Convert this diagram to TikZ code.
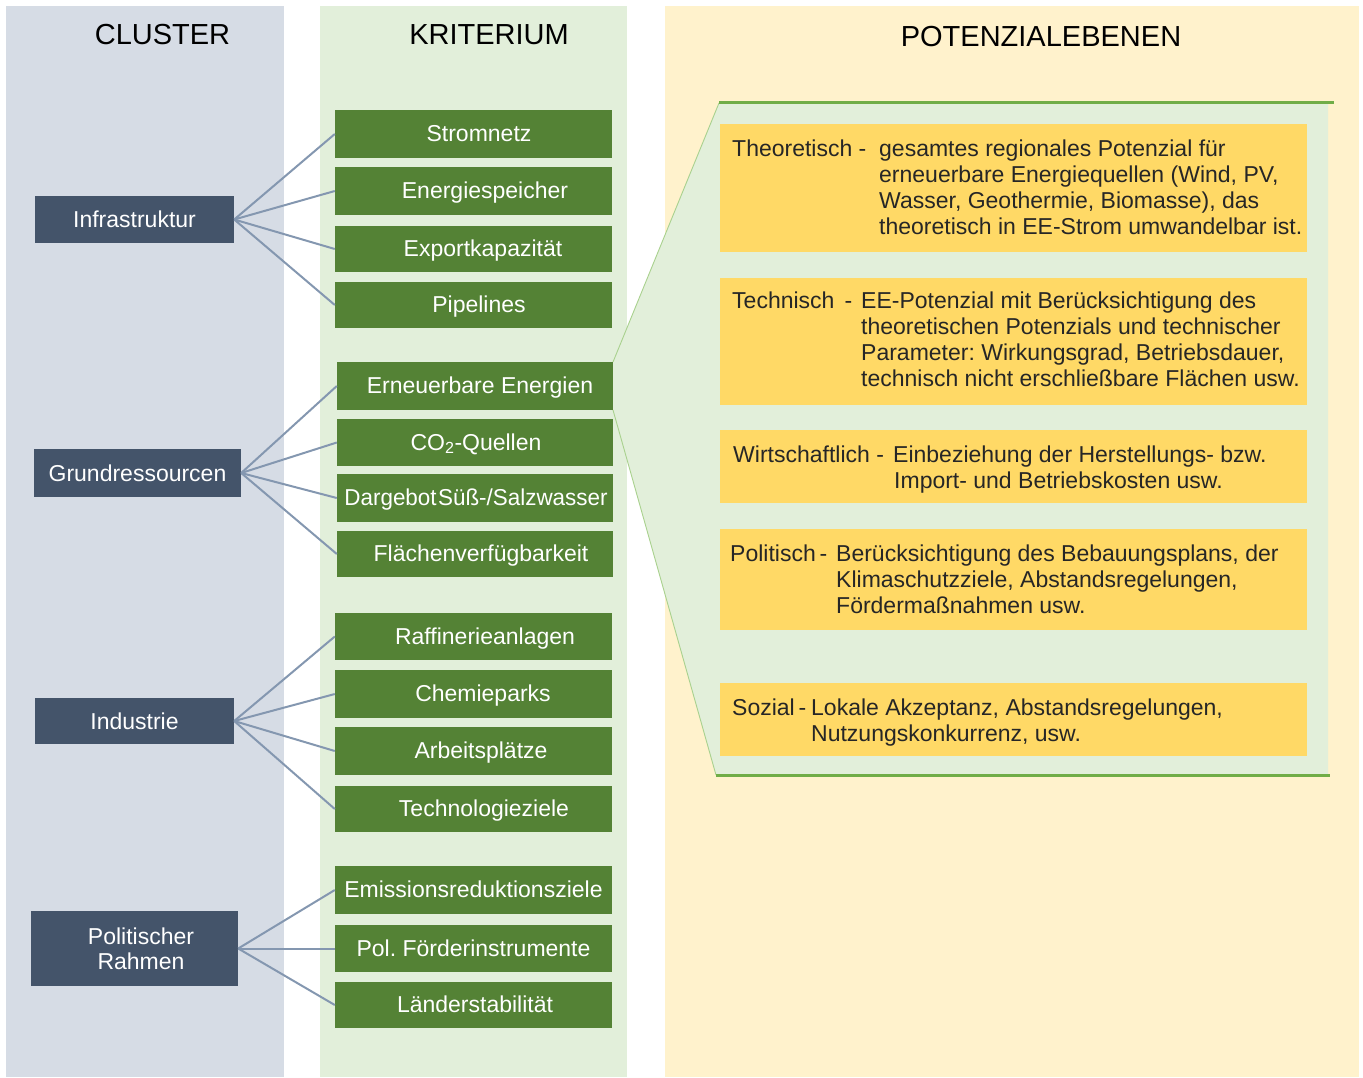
\documentclass[tikz,border=0pt]{standalone}
\usepackage{fontspec}
\setmainfont{Liberation Sans}
\frenchspacing
\definecolor{panelblue}{HTML}{D6DCE5}
\definecolor{panelgreen}{HTML}{E2EFDA}
\definecolor{panelyellow}{HTML}{FFF2CC}
\definecolor{kgreen}{HTML}{548235}
\definecolor{cblue}{HTML}{44546A}
\definecolor{ybox}{HTML}{FFD966}
\definecolor{fanline}{HTML}{8497B0}
\definecolor{trapline}{HTML}{70AD47}
\definecolor{trapthin}{HTML}{A9D18E}
\definecolor{darktext}{HTML}{262626}
\begin{document}
\begin{tikzpicture}[x=1pt,y=-1pt,
  hdr/.style={font=\fontsize{29}{32}\selectfont, text=black, inner sep=0},
  gbox/.style={fill=kgreen, text=white, inner sep=0, text height=19pt, text depth=4pt, font=\fontsize{23}{26}\selectfont},
  cbox/.style={fill=cblue, text=white, inner sep=0, align=center, font=\fontsize{23}{25}\selectfont},
  ybx/.style={fill=ybox, inner sep=0, minimum width=587},
  ytxt/.style={anchor=base west, inner sep=0, text=darktext, font=\fontsize{23}{26.3}\selectfont},
  fan/.style={draw=fanline, line width=2pt},
]
\useasboundingbox (0,0) rectangle (1363,1077);
% panels
\fill[panelblue] (6,6) rectangle (284,1077);
\fill[panelgreen] (320,6) rectangle (627,1077);
\fill[panelyellow] (665,6) rectangle (1359,1077);
% headers
\node[hdr] (h1) at (162.5,35) {CLUSTER};
\node[hdr] (h2) at (489,35) {KRITERIUM};
\node[hdr] (h3) at (1041,37) {POTENZIALEBENEN};

% Kriterium boxes
\begin{scope}[every node/.append style={minimum width=277}]
\node[gbox, minimum height=48] (k1) at (473.5,134) {\hspace*{11pt}Stromnetz};
\node[gbox, minimum height=48] (k2) at (473.5,191) {\hspace*{23pt}Energiespeicher};
\node[gbox, minimum height=46] (k3) at (473.5,249) {\hspace*{19pt}Exportkapazität};
\node[gbox, minimum height=46] (k4) at (473.5,305) {\hspace*{11pt}Pipelines};
\node[gbox, minimum height=47] (k9) at (473.5,636.5) {\hspace*{23pt}Raffinerieanlagen};
\node[gbox, minimum height=48] (k10) at (473.5,694) {\hspace*{19pt}Chemieparks};
\node[gbox, minimum height=48] (k11) at (473.5,751) {\hspace*{15pt}Arbeitsplätze};
\node[gbox, minimum height=46] (k12) at (473.5,809) {\hspace*{21pt}Technologieziele};
\node[gbox, minimum height=48] (k13) at (473.5,890) {Emissionsreduktionsziele};
\node[gbox, minimum height=47] (k14) at (473.5,948.5) {Pol. Förderinstrumente};
\node[gbox, minimum height=46] (k15) at (473.5,1005) {\hspace*{3pt}Länderstabilität};
\end{scope}

% trapezoid (zoom of Erneuerbare Energien)
\coordinate (tTL) at (719,103);
\coordinate (tTR) at (1328,103);
\coordinate (tBR) at (1328,775);
\coordinate (tBL) at (716,775);
\coordinate (tA) at (613,362);
\coordinate (tB) at (613,410);
\fill[panelgreen] (tA) -- (tTL) -- (tTR) -- (tBR) -- (tBL) -- (tB) -- cycle;
\draw[trapthin, line width=0.9pt] (tA) -- (tTL);
\draw[trapthin, line width=0.9pt] (tB) -- (tBL);
\coordinate (tTE) at (1334,102);
\coordinate (tBE) at (1330,775);
\draw[trapline, line width=3pt] (tTL) ++(0,-1) -- (tTE);
\draw[trapline, line width=3pt] (tBL) -- (tBE);

\begin{scope}[every node/.append style={minimum width=276}]
\node[gbox, minimum height=48] (k5) at (475,386) {\hspace*{10pt}Erneuerbare Energien};
\node[gbox, minimum height=47] (k6) at (475,442.5) {\hspace*{2pt}CO\textsubscript{2}-Quellen};
\node[gbox, minimum height=48] (k7) at (475,498) {\hspace*{2pt}\scalebox{0.975}[1]{Dargebot\hspace{1.5pt}Süß-/Salzwasser}};
\node[gbox, minimum height=46] (k8) at (475,554) {\hspace*{12pt}Flächenverfügbarkeit};
\end{scope}

% Cluster boxes
\node[cbox, minimum width=199, minimum height=47] (c1) at (134.5,219.5) {Infrastruktur};
\node[cbox, minimum width=207, minimum height=48] (c2) at (137.5,473) {Grundressourcen};
\node[cbox, minimum width=199, minimum height=46] (c3) at (134.5,721) {Industrie};
\node[cbox, minimum width=207, minimum height=75] (c4) at (134.5,948.5) {\hspace*{13pt}Politischer\\\hspace*{13pt}Rahmen};

% fan connectors
\foreach \k in {k1,k2,k3,k4} \draw[fan] (c1.east) -- (\k.west);
\foreach \k in {k5,k6,k7,k8} \draw[fan] (c2.east) -- (\k.west);
\foreach \k in {k9,k10,k11,k12} \draw[fan] (c3.east) -- (\k.west);
\foreach \k in {k13,k14,k15} \draw[fan] (c4.east) -- (\k.west);

% yellow boxes
\node[ybx, minimum height=128] (y1) at (1013.5,188) {};
\node[ybx, minimum height=127] (y2) at (1013.5,341.5) {};
\node[ybx, minimum height=73] (y3) at (1013.5,466.5) {};
\node[ybx, minimum height=101] (y4) at (1013.5,579.5) {};
\node[ybx, minimum height=73] (y5) at (1013.5,719.5) {};

\node[ytxt] (y1l) at (732,156) {Theoretisch -};
\node[ytxt] (y1b) at (879,156) {\begin{tabular}[t]{@{}l@{}}gesamtes regionales Potenzial für\\erneuerbare Energiequellen (Wind, PV,\\Wasser, Geothermie, Biomasse), das\\theoretisch in EE-Strom umwandelbar ist.\end{tabular}};

\node[ytxt] (y2l) at (732,308) {Technisch \,-};
\node[ytxt] (y2b) at (861,308) {\begin{tabular}[t]{@{}l@{}}EE-Potenzial mit Berücksichtigung des\\theoretischen Potenzials und technischer\\Parameter: Wirkungsgrad, Betriebsdauer,\\technisch nicht erschließbare Flächen usw.\end{tabular}};

\node[ytxt] (y3l) at (733,462) {Wirtschaftlich -};
\node[ytxt] (y3b) at (893,462) {\begin{tabular}[t]{@{}l@{}}Einbeziehung der Herstellungs- bzw.\\\hspace*{1pt}Import- und Betriebskosten usw.\end{tabular}};

\node[ytxt] (y4l) at (730,561) {Politisch\,-};
\node[ytxt] (y4b) at (836,561) {\begin{tabular}[t]{@{}l@{}}Berücksichtigung des Bebauungsplans, der\\Klimaschutzziele, Abstandsregelungen,\\Fördermaßnahmen usw.\end{tabular}};

\node[ytxt] (y5l) at (732,715) {Sozial\,-};
\node[ytxt] (y5b) at (811,715) {\begin{tabular}[t]{@{}l@{}}Lokale Akzeptanz, Abstandsregelungen,\\Nutzungskonkurrenz, usw.\end{tabular}};
\end{tikzpicture}
\end{document}
